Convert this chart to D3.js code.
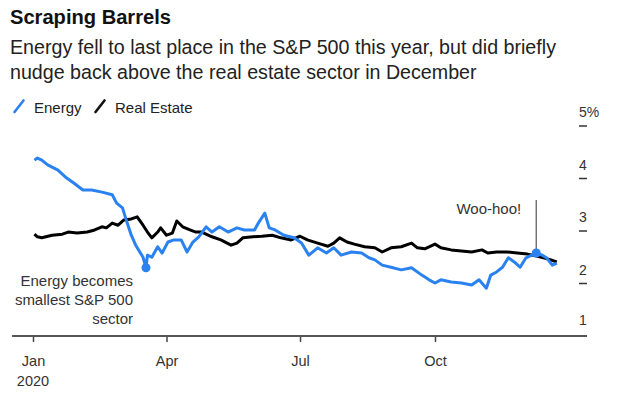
<!DOCTYPE html>
<html>
<head>
<meta charset="utf-8">
<script src="https://cdn.jsdelivr.net/npm/d3@7"></script>
<style>
  html, body { margin: 0; padding: 0; background: #fff; }
  svg { display: block; font-family: "Liberation Sans", Arial, sans-serif; }
</style>
</head>
<body>
<div id="chart"></div>
<script>
// values (% weight in the S&P 500)
const energyDates = ["2020-01-02","2020-01-04","2020-01-07","2020-01-11","2020-01-18","2020-01-23","2020-01-29","2020-02-04","2020-02-10","2020-02-17","2020-02-24","2020-02-27","2020-03-02","2020-03-05","2020-03-08","2020-03-11","2020-03-16","2020-03-18","2020-03-19","2020-03-22","2020-03-26","2020-03-29","2020-04-02","2020-04-06","2020-04-11","2020-04-15","2020-04-19","2020-04-23","2020-04-28","2020-05-02","2020-05-07","2020-05-13","2020-05-19","2020-05-24","2020-05-31","2020-06-03","2020-06-07","2020-06-10","2020-06-14","2020-06-20","2020-06-27","2020-07-02","2020-07-07","2020-07-13","2020-07-19","2020-07-24","2020-07-29","2020-08-05","2020-08-12","2020-08-17","2020-08-21","2020-08-26","2020-09-01","2020-09-08","2020-09-15","2020-09-22","2020-09-27","2020-10-01","2020-10-05","2020-10-12","2020-10-19","2020-10-26","2020-10-31","2020-11-05","2020-11-08","2020-11-12","2020-11-16","2020-11-20","2020-11-24","2020-11-28","2020-12-02","2020-12-06","2020-12-09","2020-12-13","2020-12-16","2020-12-20","2020-12-23"];
const energyValues = [4.35,4.39,4.35,4.26,4.16,4.03,3.91,3.78,3.78,3.74,3.69,3.53,3.44,3.17,2.92,2.73,2.50,2.30,2.54,2.50,2.70,2.58,2.79,2.83,2.83,2.60,2.79,2.89,3.08,2.98,3.08,2.98,3.06,3.02,3.02,3.17,3.34,3.06,3.02,2.92,2.87,2.77,2.54,2.68,2.58,2.68,2.54,2.60,2.58,2.49,2.45,2.35,2.31,2.26,2.30,2.16,2.07,2.01,2.07,2.03,2.01,1.97,2.07,1.91,2.16,2.22,2.31,2.49,2.41,2.31,2.49,2.54,2.58,2.54,2.49,2.35,2.39];

const realEstateDates = ["2020-01-02","2020-01-04","2020-01-07","2020-01-14","2020-01-21","2020-01-25","2020-01-31","2020-02-07","2020-02-12","2020-02-17","2020-02-20","2020-02-24","2020-02-28","2020-03-03","2020-03-08","2020-03-12","2020-03-16","2020-03-19","2020-03-22","2020-03-26","2020-03-28","2020-04-01","2020-04-05","2020-04-08","2020-04-12","2020-04-17","2020-04-21","2020-04-25","2020-05-02","2020-05-08","2020-05-15","2020-05-19","2020-05-23","2020-05-30","2020-06-05","2020-06-12","2020-06-18","2020-06-25","2020-07-01","2020-07-06","2020-07-13","2020-07-20","2020-07-24","2020-07-28","2020-08-02","2020-08-07","2020-08-14","2020-08-21","2020-08-26","2020-09-01","2020-09-08","2020-09-15","2020-09-19","2020-09-24","2020-10-01","2020-10-05","2020-10-12","2020-10-19","2020-10-26","2020-11-02","2020-11-06","2020-11-12","2020-11-19","2020-11-26","2020-12-03","2020-12-10","2020-12-14","2020-12-19","2020-12-23"];
const realEstateValues = [2.94,2.89,2.87,2.92,2.94,2.98,2.96,2.98,3.02,3.08,3.06,3.15,3.11,3.21,3.23,3.27,3.11,2.98,2.87,2.98,3.06,2.92,2.96,3.19,3.08,3.02,2.98,2.98,2.89,2.83,2.73,2.77,2.87,2.89,2.90,2.92,2.87,2.83,2.90,2.83,2.77,2.71,2.77,2.87,2.79,2.75,2.70,2.68,2.60,2.68,2.70,2.77,2.68,2.66,2.75,2.68,2.64,2.62,2.60,2.64,2.58,2.60,2.60,2.58,2.56,2.52,2.49,2.45,2.41];

const xTickDates = ["2020-01-01","2020-04-01","2020-07-01","2020-10-01"];
const xTickLabels = ["Jan","Apr","Jul","Oct"];
const yTickValues = [1,2,3,4,5];
const yTickLabels = ["1","2","3","4","5%"];

const lowPoint = {date: "2020-03-18", value: 2.30};
const wooHooPoint = {date: "2020-12-09", value: 2.58};

const W = 620, H = 398;
const BLUE = "#2a82f0";
const parse = d3.utcParse("%Y-%m-%d");

const energy = energyDates.map((d, i) => ({date: parse(d), value: energyValues[i]}));
const realEstate = realEstateDates.map((d, i) => ({date: parse(d), value: realEstateValues[i]}));

const x = d3.scaleUtc()
    .domain([parse("2020-01-01"), parse("2020-10-01")])
    .range([33, 435]);
const y = d3.scaleLinear()
    .domain([1, 5])
    .range([336, 126]);

const svg = d3.select("#chart")
    .append("svg")
    .attr("width", W)
    .attr("height", H)
    .attr("viewBox", `0 0 ${W} ${H}`);

// shrink or grow a text node's font so it spans the width seen in the picture
function fitWidth(sel, target) {
    const node = sel.node();
    const size = +sel.attr("font-size");
    const w = node.getComputedTextLength();
    if (w > 0) sel.attr("font-size", (size * target / w).toFixed(2));
}

// header
const title = svg.append("text")
    .attr("x", 10).attr("y", 24)
    .attr("font-size", 20).attr("font-weight", "bold")
    .attr("fill", "#111")
    .text("Scraping Barrels");
fitWidth(title, 161);

const subtitle = ["Energy fell to last place in the S&P 500 this year, but did briefly",
    "nudge back above the real estate sector in December"];
const sub = svg.selectAll("text.sub")
    .data(subtitle)
    .enter()
    .append("text")
    .attr("class", "sub")
    .attr("x", 10)
    .attr("y", (d, i) => 54 + i * 25)
    .attr("font-size", 19.5)
    .attr("fill", "#222")
    .text(d => d);
fitWidth(sub.filter((d, i) => i === 0), 546);
sub.filter((d, i) => i === 1).attr("font-size", sub.filter((d, i) => i === 0).attr("font-size"));

// legend
const legend = [{name: "Energy", color: BLUE, x: 14}, {name: "Real Estate", color: "#111", x: 95}];
const lg = svg.selectAll("g.legend")
    .data(legend)
    .enter()
    .append("g")
    .attr("class", "legend")
    .attr("transform", d => `translate(${d.x},0)`);
lg.append("line")
    .attr("x1", 0.5).attr("y1", 112)
    .attr("x2", 9.5).attr("y2", 100.5)
    .attr("stroke", d => d.color)
    .attr("stroke-width", 2.6)
    .attr("stroke-linecap", "round");
lg.append("text")
    .attr("x", 20).attr("y", 113)
    .attr("font-size", 15)
    .attr("fill", "#222")
    .text(d => d.name);

// y axis on the right
const yt = svg.selectAll("g.ytick")
    .data(yTickValues)
    .enter()
    .append("g")
    .attr("class", "ytick");
yt.filter(d => d > 1).append("line")
    .attr("x1", 579).attr("x2", 587)
    .attr("y1", d => y(d)).attr("y2", d => y(d))
    .attr("stroke", "#333")
    .attr("stroke-width", 1.5);
yt.append("text")
    .attr("x", 579)
    .attr("y", d => y(d) - (d === 1 ? 11 : 9))
    .attr("font-size", 14)
    .attr("fill", "#333")
    .text((d, i) => yTickLabels[i]);

// x axis
const xAxis = d3.axisBottom(x)
    .tickValues(xTickDates.map(parse))
    .tickSize(6)
    .tickFormat((d, i) => xTickLabels[i]);
const xg = svg.append("g")
    .attr("transform", `translate(0,${y(1)})`)
    .call(xAxis);
xg.select(".domain").remove();
xg.selectAll(".tick line").attr("stroke", "#444").attr("stroke-width", 1.5);
xg.selectAll(".tick text")
    .attr("y", 30).attr("dy", 0)
    .attr("font-size", 14.5)
    .attr("font-family", "Liberation Sans, Arial, sans-serif")
    .attr("fill", "#333");
svg.append("line")
    .attr("x1", 12).attr("x2", 587)
    .attr("y1", y(1)).attr("y2", y(1))
    .attr("stroke", "#555")
    .attr("stroke-width", 2);
svg.append("text")
    .attr("x", x(parse("2020-01-01")))
    .attr("y", 386)
    .attr("text-anchor", "middle")
    .attr("font-size", 14.5)
    .attr("fill", "#333")
    .text("2020");

// lines
const line = d3.line()
    .x(d => x(d.date))
    .y(d => y(d.value));
svg.append("path")
    .datum(realEstate)
    .attr("d", line)
    .attr("fill", "none")
    .attr("stroke", "#000")
    .attr("stroke-width", 3)
    .attr("stroke-linejoin", "round");
svg.append("path")
    .datum(energy)
    .attr("d", line)
    .attr("fill", "none")
    .attr("stroke", BLUE)
    .attr("stroke-width", 3)
    .attr("stroke-linejoin", "round");

// annotations
svg.append("circle")
    .attr("cx", x(parse(lowPoint.date)))
    .attr("cy", y(lowPoint.value))
    .attr("r", 4.5)
    .attr("fill", BLUE);
const note = ["Energy becomes", "smallest S&P 500", "sector"];
svg.selectAll("text.note")
    .data(note)
    .enter()
    .append("text")
    .attr("class", "note")
    .attr("x", 133)
    .attr("y", (d, i) => 286 + i * 19)
    .attr("text-anchor", "end")
    .attr("font-size", 15)
    .attr("fill", "#333")
    .text(d => d);

const wx = x(parse(wooHooPoint.date)), wy = y(wooHooPoint.value);
svg.append("line")
    .attr("x1", wx).attr("x2", wx)
    .attr("y1", 200).attr("y2", wy)
    .attr("stroke", "#555")
    .attr("stroke-width", 1.2);
svg.append("circle")
    .attr("cx", wx).attr("cy", wy)
    .attr("r", 4.5)
    .attr("fill", BLUE);
svg.append("text")
    .attr("x", wx - 15).attr("y", 214)
    .attr("text-anchor", "end")
    .attr("font-size", 15)
    .attr("fill", "#333")
    .text("Woo-hoo!");
</script>
</body>
</html>
